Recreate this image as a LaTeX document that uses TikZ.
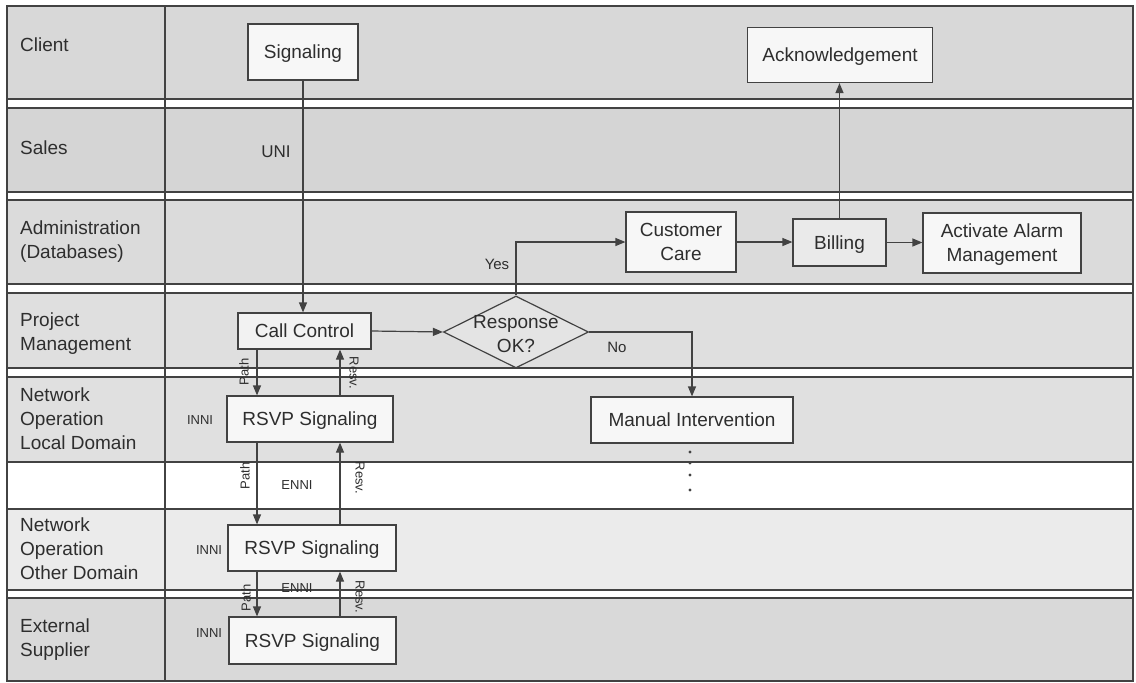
\documentclass[tikz,border=0pt]{standalone}
\usepackage{fontspec}
\setmainfont{Liberation Sans}
\usetikzlibrary{arrows.meta,shapes.geometric}
\definecolor{ln}{HTML}{424242}
\definecolor{tx}{HTML}{2E2E2E}
\definecolor{laneA}{HTML}{D8D8D8}
\definecolor{laneB}{HTML}{D5D5D5}
\definecolor{laneC}{HTML}{DBDBDB}
\definecolor{laneD}{HTML}{DFDFDF}
\definecolor{laneE}{HTML}{E0E0E0}
\definecolor{laneF}{HTML}{EBEBEB}
\definecolor{laneG}{HTML}{D9D9D9}
\definecolor{boxfill}{HTML}{F7F7F7}
\definecolor{billfill}{HTML}{EAEAEA}
\definecolor{diafill}{HTML}{E4E4E4}
\tikzset{
  lane/.style={draw=ln, line width=1.3pt},
  lanelab/.style={anchor=west, align=left, text=tx, font=\fontsize{19}{24}\selectfont, inner sep=0pt},
  procbox/.style={draw=ln, fill=boxfill, line width=1.2pt, text=tx, align=center,
    font=\fontsize{19}{24}\selectfont, inner sep=0pt, text depth=0pt},
  arr/.style={draw=ln, line width=1.2pt, -{Triangle[length=10pt,width=8pt]}},
  smalllab/.style={text=tx, font=\fontsize{13}{15}\selectfont, inner sep=0pt},
  midlab/.style={text=tx, font=\fontsize{15}{18}\selectfont, inner sep=0pt},
}
\begin{document}
\begin{tikzpicture}[x=1pt,y=-1pt]
\useasboundingbox (0,0) rectangle (1136,683);
\fill[white] (0,0) rectangle (1136,683);
% lanes
\draw[lane, fill=laneA] (7,6) rectangle (1133,99);
\draw[lane, fill=laneB] (7,108) rectangle (1133,192);
\draw[lane, fill=laneC] (7,200) rectangle (1133,284);
\draw[lane, fill=laneD] (7,293) rectangle (1133,368);
\draw[lane, fill=laneE] (7,377) rectangle (1133,462);
\draw[lane, fill=laneF] (7,509) rectangle (1133,590);
\draw[lane, fill=laneG] (7,598) rectangle (1133,681);
\draw[lane] (7,6) -- (7,681);
\draw[lane] (1133,6) -- (1133,681);
\draw[lane] (165,6) -- (165,681);
% lane labels
\node[lanelab] (lclient) at (20,45) {Client};
\node[lanelab] (lsales) at (20,148) {Sales};
\node[lanelab] (ladmin) at (20,242) {Administration\\(Databases)};
\node[lanelab] (lpm) at (20,334) {Project\\Management};
\node[lanelab] (llocal) at (20,419) {Network\\Operation\\Local Domain};
\node[lanelab] (lother) at (20,549) {Network\\Operation\\Other Domain};
\node[lanelab] (lext) at (20,640) {External\\Supplier};
% boxes
\node[procbox, minimum width=110pt, minimum height=56pt] (sig) at (303,52) {Signaling};
\node[procbox, minimum width=185pt, minimum height=55pt] (ack) at (840,55) {Acknowledgement};
\node[procbox, minimum width=110pt, minimum height=60pt] (cust) at (681,242) {Customer\\Care};
\node[procbox, fill=billfill, minimum width=93pt, minimum height=47pt] (bill) at (839.5,242.5) {Billing};
\node[procbox, minimum width=158pt, minimum height=60pt] (act) at (1002,243) {Activate Alarm\\Management};
\node[procbox, fill=billfill!60!white, minimum width=133pt, minimum height=36pt] (cc) at (304.5,331) {Call Control};
\node[procbox, minimum width=166pt, minimum height=46pt] (rl) at (310,419) {RSVP Signaling};
\node[procbox, minimum width=168pt, minimum height=46pt] (ro) at (312,548) {RSVP Signaling};
\node[procbox, minimum width=167pt, minimum height=47pt] (re) at (312.5,640.5) {RSVP Signaling};
\node[procbox, minimum width=202pt, minimum height=46pt] (man) at (692,420) {Manual Intervention};
\node[diamond, draw=ln, fill=diafill, line width=1.2pt, minimum width=145pt, minimum height=72pt, inner sep=0pt] (dia) at (516,332) {};
\node[text=tx, align=center, font=\fontsize{19}{24}\selectfont, inner sep=0pt, text depth=0pt] (diatext) at (516,334) {Response\\OK?};
% small labels
\node[midlab, font=\fontsize{17}{20}\selectfont] (uni) at (276,152) {UNI};
\node[midlab] (yes) at (497,264) {Yes};
\node[midlab] (no) at (617,347) {No};
\node[smalllab] (inni1) at (200,420) {INNI};
\node[smalllab] (inni2) at (209,550) {INNI};
\node[smalllab] (inni3) at (209,633) {INNI};
\node[smalllab] (enni1) at (297,485) {ENNI};
\node[smalllab] (enni2) at (297,588) {ENNI};
\node[smalllab, rotate=90] (path1) at (244,372) {Path};
\node[smalllab, rotate=90] (path2) at (245,476) {Path};
\node[smalllab, rotate=90] (path3) at (246,598) {Path};
\node[smalllab, rotate=-90] (resv1) at (354,373) {Resv.};
\node[smalllab, rotate=-90] (resv2) at (360,478) {Resv.};
\node[smalllab, rotate=-90] (resv3) at (360,597) {Resv.};
% connectors
\coordinate (px) at (257,0);
\coordinate (rx) at (340,0);
\draw[arr] (sig.south) -- (sig.south |- cc.north);
\draw[arr] (cc.south -| px) -- (rl.north -| px);
\draw[arr] (rl.north -| rx) -- (cc.south -| rx);
\draw[arr] (rl.south -| px) -- (ro.north -| px);
\draw[arr] (ro.north -| rx) -- (rl.south -| rx);
\draw[arr] (ro.south -| px) -- (re.north -| px);
\draw[arr] (re.north -| rx) -- (ro.south -| rx);
\draw[arr] (cc.east) -- (dia.west);
\draw[arr] (dia.north) |- (cust.west);
\draw[arr] (dia.east) -| (man.north);
\draw[arr] (cust.east) -- (bill.west |- cust.east);
\draw[arr] (bill.east) -- (act.west |- bill.east);
\draw[arr] (bill.north) -- (bill.north |- ack.south);
% continuation dots
\foreach \yy in {452,463,475,490} \fill[ln] (690,\yy) circle (1.7pt);
\end{tikzpicture}
\end{document}
